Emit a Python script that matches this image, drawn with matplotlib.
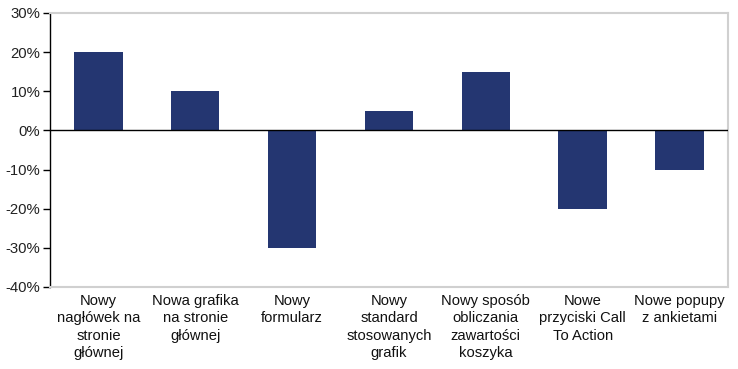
import matplotlib
matplotlib.use("Agg")
import matplotlib.pyplot as plt
from matplotlib.ticker import FuncFormatter

categories = [
    "Nowy\nnagłówek na\nstronie\ngłównej",
    "Nowa grafika\nna stronie\ngłównej",
    "Nowy\nformularz",
    "Nowy\nstandard\nstosowanych\ngrafik",
    "Nowy sposób\nobliczania\nzawartości\nkoszyka",
    "Nowe\nprzyciski Call\nTo Action",
    "Nowe popupy\nz ankietami",
]
values = [20, 10, -30, 5, 15, -20, -10]
yticks = [-40, -30, -20, -10, 0, 10, 20, 30]

plt.rcParams['font.family'] = ['Liberation Sans', 'DejaVu Sans']

fig = plt.figure(figsize=(7.38, 3.69), dpi=100)
ax = fig.add_axes([50/738, 1-287/369, (728-50)/738, (287-13)/369])

x = list(range(len(categories)))
ax.bar(x, values, width=0.5, color='#243671', zorder=2)
ax.axhline(0, color='black', linewidth=1, zorder=3)

ax.set_xlim(-0.5, len(categories)-0.5)
ax.set_ylim(-40, 30)
ax.set_yticks(yticks)
ax.yaxis.set_major_formatter(FuncFormatter(lambda v, p: f"{int(v)}%"))
ax.tick_params(axis='y', direction='out', length=5, width=1, labelsize=10.7, colors='black', labelcolor='#222222', pad=2)
ax.set_xticks(x)
ax.set_xticklabels(categories, fontsize=10.6, color='#111111', linespacing=1.3, va='top')
ax.tick_params(axis='x', length=0, pad=5)

for side in ['top', 'right', 'bottom']:
    ax.spines[side].set_color('#d0d0d0')
    ax.spines[side].set_linewidth(1.5)
ax.spines['left'].set_color('black')
ax.spines['left'].set_linewidth(1)

fig.savefig('out.png', dpi=100)
